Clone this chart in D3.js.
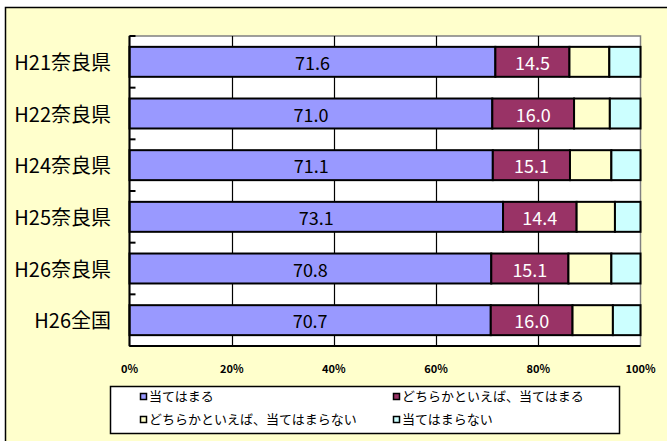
<!DOCTYPE html>
<html>
<head>
<meta charset="utf-8">
<script src="https://cdn.jsdelivr.net/npm/d3@7"></script>
<style>
  html, body { margin: 0; padding: 0; background: #ffffff; }
  svg { display: block; }
  text { font-family: "Noto Sans CJK JP", "Noto Sans", sans-serif; }
</style>
</head>
<body>
<svg id="chart" width="667" height="441"></svg>
<script>
// Survey categories (rows) and answer shares (%)
const categories = ["H21奈良県", "H22奈良県", "H24奈良県", "H25奈良県", "H26奈良県", "H26全国"];
const seriesNames = ["当てはまる", "どちらかといえば、当てはまる", "どちらかといえば、当てはまらない", "当てはまらない"];
const applies         = [71.6, 71.0, 71.1, 73.1, 70.8, 70.7];
const somewhatApplies = [14.5, 16.0, 15.1, 14.4, 15.1, 16.0];
const somewhatNot     = [7.8, 7.0, 8.1, 7.5, 8.4, 7.9];
const notApplies      = [6.1, 6.0, 5.7, 5.0, 5.7, 5.4];
const tickValues = [0, 20, 40, 60, 80, 100];
const tickLabels = ["0%", "20%", "40%", "60%", "80%", "100%"];

const colors = ["#9999FF", "#993366", "#FFFFCC", "#CCFFFF"];
const labelColors = ["#000000", "#FFFFFF", null, null];

const svg = d3.select("#chart");

// chart area
svg.append("rect")
  .attr("x", 5.5).attr("y", 7.5).attr("width", 700).attr("height", 500)
  .attr("fill", "#FFFFCC").attr("stroke", "#000").attr("stroke-width", 1.5);

const plot = { left: 129.5, top: 36, right: 640.5, bottom: 346 };

const x = d3.scaleLinear().domain([0, 100]).range([plot.left, plot.right]);
const y = d3.scaleBand().domain(categories).range([plot.top, plot.bottom]).paddingInner(0.42).paddingOuter(0.21);

// plot background
svg.append("rect")
  .attr("x", plot.left).attr("y", plot.top)
  .attr("width", plot.right - plot.left).attr("height", plot.bottom - plot.top)
  .attr("fill", "#fff").attr("stroke", "#808080").attr("stroke-width", 1.5);

// vertical gridlines
svg.append("g").selectAll("line").data(tickValues.slice(1, -1)).join("line")
  .attr("x1", d => Math.round(x(d)) + 0.5).attr("x2", d => Math.round(x(d)) + 0.5)
  .attr("y1", plot.top).attr("y2", plot.bottom)
  .attr("stroke", "#000").attr("stroke-width", 1.2);

// stacked rows
const table = categories.map((c, i) => ({
  category: c,
  values: [applies[i], somewhatApplies[i], somewhatNot[i], notApplies[i]]
}));

const rows = svg.append("g").selectAll("g").data(table).join("g");
rows.each(function(d) {
  let acc = 0;
  const segs = d.values.map((v, k) => {
    const s = { k, v, x0: acc, x1: acc + v };
    acc += v;
    return s;
  });
  const g = d3.select(this);
  g.selectAll("rect").data(segs).join("rect")
    .attr("x", s => x(s.x0)).attr("width", s => x(s.x1) - x(s.x0))
    .attr("y", y(d.category)).attr("height", y.bandwidth())
    .attr("fill", s => colors[s.k])
    .attr("stroke", "#000").attr("stroke-width", 2);
  g.selectAll("text").data(segs.filter(s => labelColors[s.k])).join("text")
    .attr("x", s => (x(s.x0) + x(s.x1)) / 2)
    .attr("y", y(d.category) + y.bandwidth() / 2 + 8)
    .attr("text-anchor", "middle")
    .attr("font-size", 18)
    .attr("fill", s => labelColors[s.k])
    .text(s => s.v.toFixed(1));
});

// left axis with inward ticks at category boundaries
svg.append("line")
  .attr("x1", plot.left).attr("x2", plot.left)
  .attr("y1", plot.top).attr("y2", plot.bottom)
  .attr("stroke", "#000").attr("stroke-width", 2);
const step = (plot.bottom - plot.top) / categories.length;
svg.append("g").selectAll("line").data(d3.range(categories.length + 1)).join("line")
  .attr("x1", plot.left).attr("x2", plot.left + 6)
  .attr("y1", i => plot.top + i * step).attr("y2", i => plot.top + i * step)
  .attr("stroke", "#000").attr("stroke-width", 2);

// bottom axis line
svg.append("line")
  .attr("x1", plot.left).attr("x2", plot.right)
  .attr("y1", plot.bottom).attr("y2", plot.bottom)
  .attr("stroke", "#000").attr("stroke-width", 2);

// category labels
svg.append("g").selectAll("text").data(categories).join("text")
  .attr("x", 111).attr("y", c => y(c) + y.bandwidth() / 2 + 8)
  .attr("text-anchor", "end").attr("font-size", 20).attr("fill", "#000")
  .text(c => c);

// percentage tick labels
svg.append("g").selectAll("text").data(tickValues).join("text")
  .attr("x", d => x(d)).attr("y", 373)
  .attr("text-anchor", "middle").attr("font-size", 11).attr("font-weight", "bold")
  .attr("fill", "#000")
  .text((d, i) => tickLabels[i]);

// legend
const legend = svg.append("g");
legend.append("rect")
  .attr("x", 110.5).attr("y", 386.5).attr("width", 509).attr("height", 47)
  .attr("fill", "#fff").attr("stroke", "#000").attr("stroke-width", 1.5);
const legendPos = [[140, 401], [393, 401], [140, 424], [393, 424]];
const items = legend.selectAll("g").data(seriesNames).join("g")
  .attr("transform", (d, i) => `translate(${legendPos[i][0]},${legendPos[i][1]})`);
items.append("rect")
  .attr("x", 0.5).attr("y", -7.5).attr("width", 6).attr("height", 6)
  .attr("fill", (d, i) => colors[i]).attr("stroke", "#000").attr("stroke-width", 1.5);
items.append("text")
  .attr("x", 9).attr("y", 0).attr("font-size", 13).attr("fill", "#000")
  .text(d => d);
</script>
</body>
</html>
